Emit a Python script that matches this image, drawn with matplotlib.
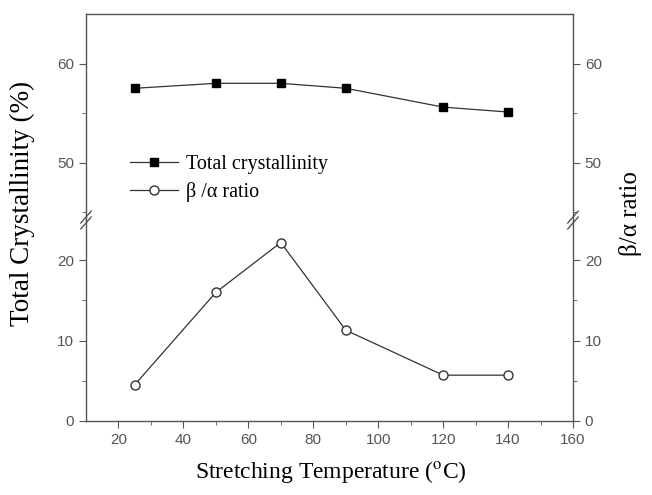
import matplotlib
matplotlib.use("Agg")
import matplotlib.pyplot as plt

plt.rcParams["mathtext.fontset"] = "stix"

temps = [25, 50, 70, 90, 120, 140]
total_cryst = [57.5, 58.0, 58.0, 57.5, 55.6, 55.1]
beta_alpha = [4.5, 16.0, 22.2, 11.3, 5.7, 5.7]

fig = plt.figure(figsize=(6.52, 4.95), dpi=100)
L, R = 86 / 652, 573 / 652
ybrk = 1 - 220 / 495
ax_top = fig.add_axes([L, ybrk, R - L, (1 - 14 / 495) - ybrk])
ax_bot = fig.add_axes([L, 1 - 421 / 495, R - L, ybrk - (1 - 421 / 495)], sharex=ax_top)

axc = "#555555"

l1, = ax_top.plot(temps, total_cryst, "-", color="#333333", lw=0.9,
                  marker="s", ms=6, mfc="black", mec="black")
l2, = ax_bot.plot(temps, beta_alpha, "-", color="#333333", lw=0.9,
                  marker="o", ms=6.5, mfc="white", mec="#333333", mew=1.0)

ax_top.set_ylim(44.2, 65)
ax_bot.set_ylim(0, 25)
ax_bot.set_xlim(10, 160)

ax_top.set_yticks([50, 60])
ax_top.set_yticks([45, 55], minor=True)
ax_bot.set_yticks([0, 10, 20])
ax_bot.set_yticks([5, 15], minor=True)
ax_bot.set_xticks(range(20, 161, 20))
ax_bot.set_xticks(range(30, 160, 20), minor=True)

for ax in (ax_top, ax_bot):
    for s in ax.spines.values():
        s.set_color(axc)
        s.set_linewidth(1.0)
    ax.tick_params(which="both", direction="out", colors=axc, labelcolor="#555555",
                   left=True, right=True, labelleft=True, labelright=True)
    ax.tick_params(which="major", length=5, labelsize=11)
    ax.tick_params(which="minor", length=3)
    for lab in ax.get_yticklabels() + ax.get_xticklabels():
        lab.set_family("Liberation Sans")

ax_top.spines["bottom"].set_visible(False)
ax_bot.spines["top"].set_visible(False)
ax_top.tick_params(axis="x", which="both", bottom=False, top=False, labelbottom=False)
ax_bot.tick_params(axis="x", which="both", top=False)

# break marks on both axes
for xf in (0, 1):
    for dy in (-0.006, 0.006):
        fig.add_artist(plt.Line2D([L + xf * (R - L) - 0.008, L + xf * (R - L) + 0.008],
                                  [ybrk + dy - 0.012, ybrk + dy + 0.012],
                                  color=axc, lw=1.0))

ax_top.legend([l1, l2], ["Total crystallinity", "β /α ratio"], loc="upper left",
              bbox_to_anchor=(0.09, 0.315), frameon=False, handlelength=2.4,
              prop=dict(family="Liberation Serif", size=14.5), labelspacing=0.38,
              handletextpad=0.4, borderpad=0, borderaxespad=0)

fig.text(22 / 652, 1 - 203 / 495, "Total Crystallinity (%)", rotation=90,
         ha="center", va="center", family="Liberation Serif", size=19.5)
fig.text(631 / 652, 1 - 214 / 495, "β/α ratio", rotation=90,
         ha="center", va="center", family="Liberation Serif", size=18)
fig.text(331 / 652, 1 - 472 / 495, "Stretching Temperature ($^{\\rm o}$C)",
         ha="center", va="center", family="Liberation Serif", size=17)

fig.savefig("out.png", dpi=100)
